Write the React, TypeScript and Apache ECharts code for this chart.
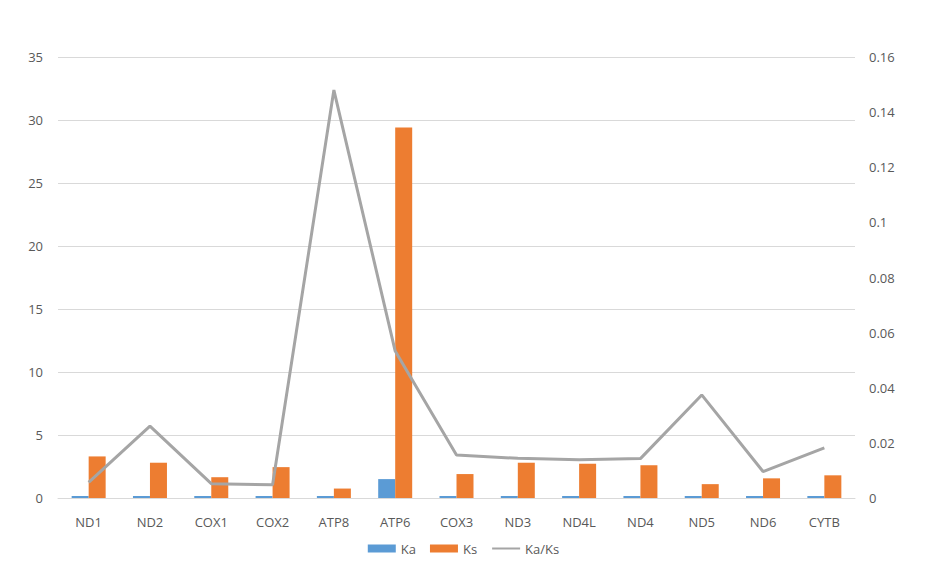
import React, { useEffect, useRef } from "react";
import * as echarts from "echarts";

const categories = ["ND1", "ND2", "COX1", "COX2", "ATP8", "ATP6", "COX3", "ND3", "ND4L", "ND4", "ND5", "ND6", "CYTB"];
const kaValues = [0.019, 0.073, 0.008, 0.011, 0.11, 1.5, 0.03, 0.04, 0.037, 0.037, 0.041, 0.015, 0.033];
const ksValues = [3.3, 2.8, 1.65, 2.45, 0.75, 29.4, 1.9, 2.8, 2.72, 2.6, 1.1, 1.56, 1.8];
const ratioValues = [0.0057, 0.0261, 0.0052, 0.0048, 0.148, 0.0533, 0.0156, 0.0144, 0.0139, 0.0143, 0.0374, 0.0096, 0.0182];

const FONT = "'Open Sans', 'Noto Sans', sans-serif";
const TEXT = "#595959";

export default function App() {
  const ref = useRef<HTMLDivElement>(null);
  useEffect(() => {
    if (!ref.current) return;
    const chart = echarts.init(ref.current, undefined, { renderer: "svg" });
    chart.setOption({
      animation: false,
      backgroundColor: "#ffffff",
      textStyle: { fontFamily: FONT },
      grid: { left: 58, right: 72, top: 57, bottom: 78, containLabel: false },
      legend: {
        bottom: 16,
        left: "center",
        itemWidth: 28,
        itemHeight: 8,
        itemGap: 14,
        textStyle: { color: TEXT, fontSize: 13, fontFamily: FONT },
        data: [
          { name: "Ka", icon: "rect" },
          { name: "Ks", icon: "rect" },
          { name: "Ka/Ks", itemStyle: { opacity: 0 } },
        ],
      },
      xAxis: {
        type: "category",
        data: categories,
        axisLine: { lineStyle: { color: "#d9d9d9", width: 1 } },
        axisTick: { show: false },
        axisLabel: { color: TEXT, fontSize: 13, margin: 17, fontFamily: FONT },
      },
      yAxis: [
        {
          type: "value",
          min: 0,
          max: 35,
          interval: 5,
          axisLine: { show: false },
          axisTick: { show: false },
          axisLabel: { color: TEXT, fontSize: 13, margin: 15, fontFamily: FONT },
          splitLine: { lineStyle: { color: "#d9d9d9", width: 1 } },
        },
        {
          type: "value",
          min: 0,
          max: 0.16,
          interval: 0.02,
          axisLine: { show: false },
          axisTick: { show: false },
          axisLabel: { color: TEXT, fontSize: 13, margin: 14, fontFamily: FONT },
          splitLine: { show: false },
        },
      ],
      series: [
        {
          name: "Ka",
          type: "bar",
          data: kaValues,
          barWidth: 17,
          barGap: "0%",
          barMinHeight: 2,
          itemStyle: { color: "#5b9bd5" },
        },
        {
          name: "Ks",
          type: "bar",
          data: ksValues,
          barWidth: 17,
          barGap: "0%",
          itemStyle: { color: "#ed7d31" },
        },
        {
          name: "Ka/Ks",
          type: "line",
          yAxisIndex: 1,
          data: ratioValues,
          symbol: "none",
          lineStyle: { color: "#a5a5a5", width: 3 },
          itemStyle: { color: "#a5a5a5" },
        },
      ],
    });
    return () => chart.dispose();
  }, []);
  return <div ref={ref} style={{ width: 927, height: 576, position: "absolute", left: 0, top: 0 }} />;
}
